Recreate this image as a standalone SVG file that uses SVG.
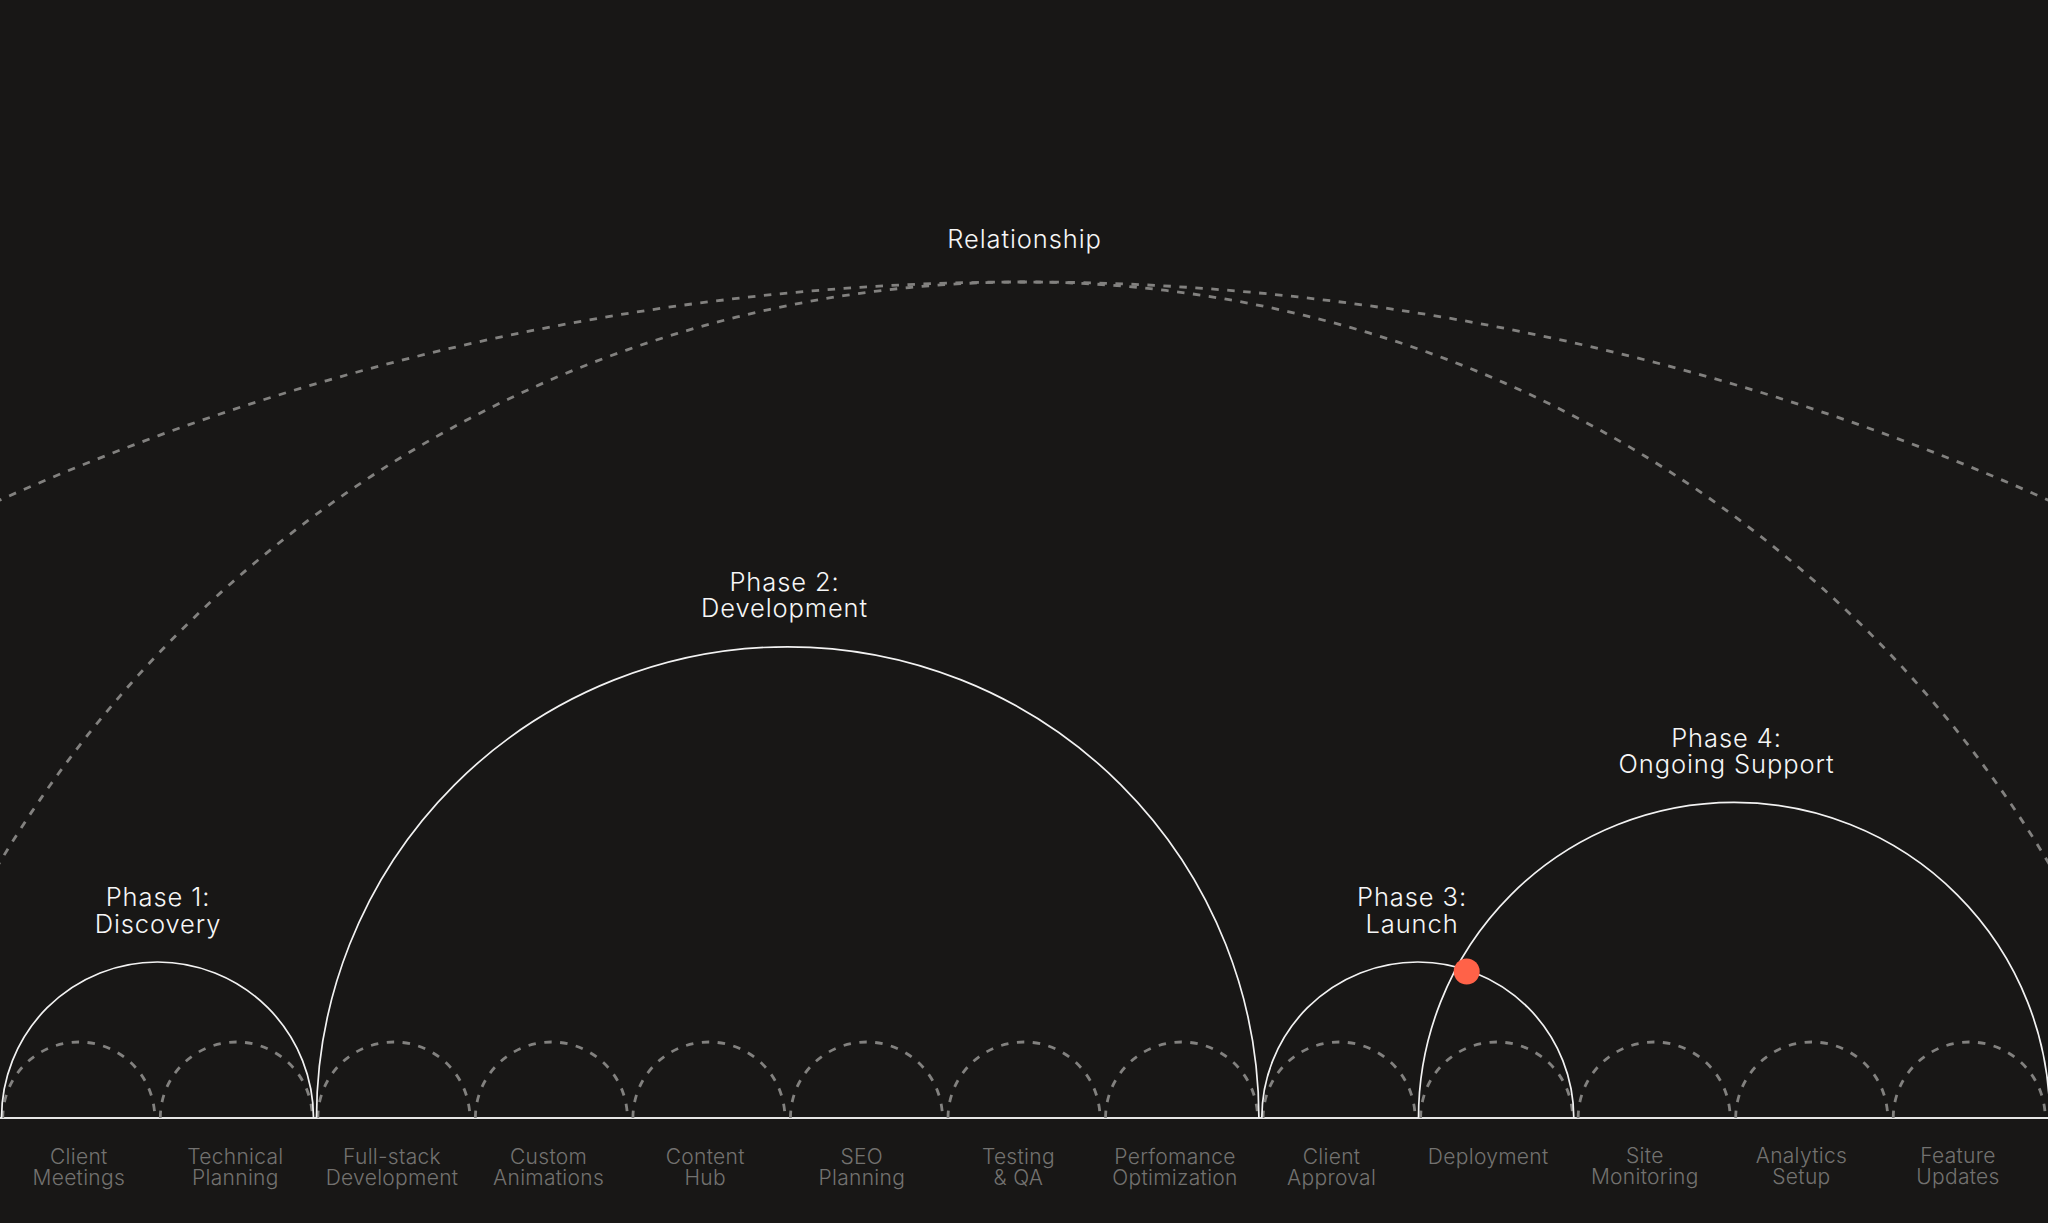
<svg xmlns="http://www.w3.org/2000/svg" width="2048" height="1223" viewBox="0 0 2048 1223">
<style>
.bg{fill:#181716}
.dash{fill:none;stroke:#82817f;stroke-width:2.8;stroke-dasharray:7.5 8.5}
.solid{fill:none;stroke:#f2f2f2;stroke-width:1.7}
.base{fill:none;stroke:#e6e6e6;stroke-width:2}
.ph{font-family:Inter,"Noto Sans",sans-serif;font-size:25.5px;font-weight:300;letter-spacing:0.9px;fill:#f6f6f6;text-anchor:middle}
.lb{font-family:Inter,"Noto Sans",sans-serif;font-size:21px;font-weight:300;letter-spacing:0.3px;fill:#737270;text-anchor:middle}
</style>
<rect class="bg" x="0" y="0" width="2048" height="1223"/>
<g id="relationship">
<path class="dash" d="M -20 509 A 2514 2514 0 0 1 2068 509"/>
<path class="dash" d="M -20 896.6 A 1194 1194 0 0 1 2068 896.6"/>
<text class="ph" x="1024.5" y="247.7">Relationship</text>
</g>
<g id="connectors">
<line class="base" x1="0" y1="1118" x2="2048" y2="1118"/>
</g>
<g id="items">
<g id="item-0"><path class="dash" d="M 2.77 1118 A 76 76 0 0 1 154.77 1118"/><text class="lb" x="78.8" y="1164">Client</text><text class="lb" x="78.8" y="1185">Meetings</text></g>
<g id="item-1"><path class="dash" d="M 160.31 1118 A 76 76 0 0 1 312.31 1118"/><text class="lb" x="235.4" y="1164">Technical</text><text class="lb" x="235.4" y="1185">Planning</text></g>
<g id="item-2"><path class="dash" d="M 317.85 1118 A 76 76 0 0 1 469.85 1118"/><text class="lb" x="392" y="1164">Full-stack</text><text class="lb" x="392" y="1185">Development</text></g>
<g id="item-3"><path class="dash" d="M 475.38 1118 A 76 76 0 0 1 627.38 1118"/><text class="lb" x="548.6" y="1164">Custom</text><text class="lb" x="548.6" y="1185">Animations</text></g>
<g id="item-4"><path class="dash" d="M 632.92 1118 A 76 76 0 0 1 784.92 1118"/><text class="lb" x="705.2" y="1164">Content</text><text class="lb" x="705.2" y="1185">Hub</text></g>
<g id="item-5"><path class="dash" d="M 790.46 1118 A 76 76 0 0 1 942.46 1118"/><text class="lb" x="861.8" y="1164">SEO</text><text class="lb" x="861.8" y="1185">Planning</text></g>
<g id="item-6"><path class="dash" d="M 948 1118 A 76 76 0 0 1 1100 1118"/><text class="lb" x="1018.4" y="1164">Testing</text><text class="lb" x="1018.4" y="1185">&amp; QA</text></g>
<g id="item-7"><path class="dash" d="M 1105.54 1118 A 76 76 0 0 1 1257.54 1118"/><text class="lb" x="1175" y="1164">Perfomance</text><text class="lb" x="1175" y="1185">Optimization</text></g>
<g id="item-8"><path class="dash" d="M 1263.08 1118 A 76 76 0 0 1 1415.08 1118"/><text class="lb" x="1331.6" y="1164">Client</text><text class="lb" x="1331.6" y="1185">Approval</text></g>
<g id="item-9"><path class="dash" d="M 1420.62 1118 A 76 76 0 0 1 1572.62 1118"/><text class="lb" x="1488.2" y="1164">Deployment</text></g>
<g id="item-10"><path class="dash" d="M 1578.15 1118 A 76 76 0 0 1 1730.15 1118"/><text class="lb" x="1644.8" y="1163">Site</text><text class="lb" x="1644.8" y="1184">Monitoring</text></g>
<g id="item-11"><path class="dash" d="M 1735.69 1118 A 76 76 0 0 1 1887.69 1118"/><text class="lb" x="1801.4" y="1163">Analytics</text><text class="lb" x="1801.4" y="1184">Setup</text></g>
<g id="item-12"><path class="dash" d="M 1893.23 1118 A 76 76 0 0 1 2045.23 1118"/><text class="lb" x="1958" y="1163">Feature</text><text class="lb" x="1958" y="1184">Updates</text></g>
</g>
<g id="phase-1"><path class="solid" d="M 1.5 1118 A 156 156 0 0 1 313.5 1118"/><text class="ph" x="158" y="906">Phase 1:</text><text class="ph" x="158" y="932.5">Discovery</text></g>
<g id="phase-2"><path class="solid" d="M 316.5 1118 A 471.2 471.2 0 0 1 1258.9 1118"/><text class="ph" x="784.5" y="590.7">Phase 2:</text><text class="ph" x="784.5" y="616.7">Development</text></g>
<g id="phase-3"><path class="solid" d="M 1261.8 1118 A 156 156 0 0 1 1573.8 1118"/><text class="ph" x="1412" y="906">Phase 3:</text><text class="ph" x="1412" y="932.5">Launch</text></g>
<g id="phase-4"><path class="solid" d="M 1418.5 1118 A 315.6 315.6 0 0 1 2049.7 1118"/><text class="ph" x="1726.5" y="746.7">Phase 4:</text><text class="ph" x="1726.5" y="773.3">Ongoing Support</text></g>
<g id="marker-dot"><circle cx="1466.7" cy="971.5" r="13" fill="#ff6248"/></g>
</svg>
